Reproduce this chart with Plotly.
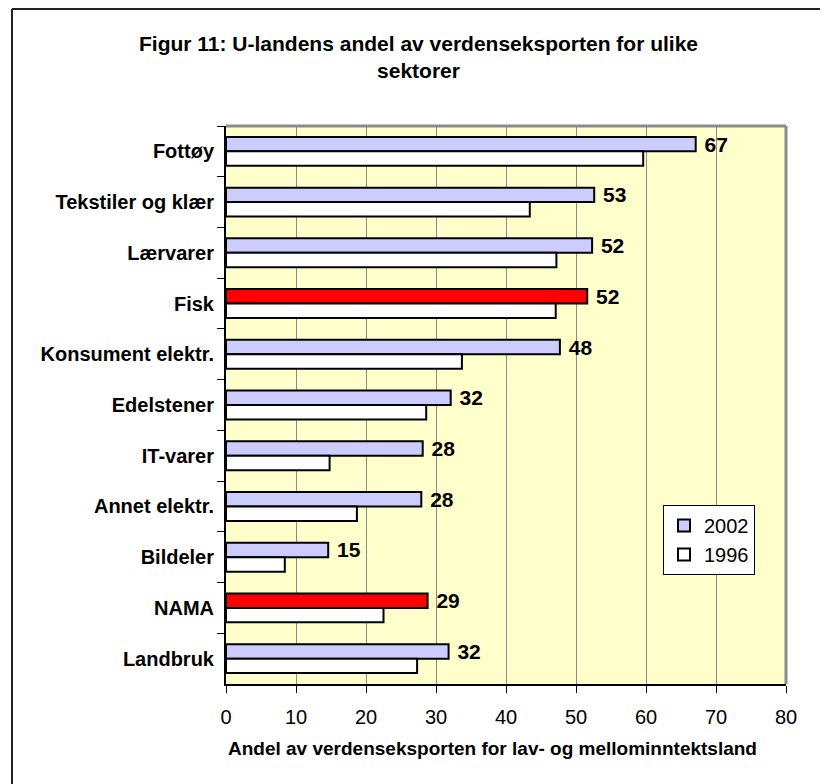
import plotly.graph_objects as go

categories = ["Fottøy", "Tekstiler og klær", "Lærvarer", "Fisk", "Konsument elektr.",
              "Edelstener", "IT-varer", "Annet elektr.", "Bildeler", "NAMA", "Landbruk"]
values_2002 = [67.1, 52.6, 52.3, 51.6, 47.7, 32.1, 28.1, 27.9, 14.6, 28.8, 31.8]
values_1996 = [59.6, 43.4, 47.2, 47.1, 33.7, 28.6, 14.8, 18.7, 8.4, 22.5, 27.3]
highlight = ["Fisk", "NAMA"]
x_ticks = [0, 10, 20, 30, 40, 50, 60, 70, 80]

FONT = "Liberation Sans, Arial, sans-serif"
colors_2002 = ["#FF0000" if c in highlight else "#CCCCFF" for c in categories]

# plot area in page pixels (the page body has an 8px margin)
OFF = 8
L, R, T, B = 226, 786, 126, 684
W, H = 828, 784
pw, ph = R - L, B - T

def px_x(x):
    return (x - L) / pw

def px_y(y):
    return (B - y) / ph

fig = go.Figure()
fig.add_trace(go.Bar(
    name="2002", y=categories, x=values_2002, orientation="h",
    marker=dict(color=colors_2002, line=dict(color="black", width=2)),
    texttemplate=" %{x:.0f}", textposition="outside", constraintext="none",
    cliponaxis=False,
    textfont=dict(family=FONT, size=21, color="black", weight="bold"),
))
fig.add_trace(go.Bar(
    name="1996", y=categories, x=values_1996, orientation="h",
    marker=dict(color="white", line=dict(color="black", width=2)),
))

fig.update_layout(
    width=W - OFF, height=H - OFF,
    margin=dict(l=L - OFF, r=W - R, t=T - OFF, b=H - B),
    paper_bgcolor="white", plot_bgcolor="#FFFFCC",
    barmode="group", bargap=0.43, bargroupgap=0,
    showlegend=True,
    legend=dict(x=px_x(663), y=px_y(505), xanchor="left", yanchor="top",
                bgcolor="white", bordercolor="black", borderwidth=1,
                font=dict(family=FONT, size=20, color="black"),
                itemwidth=30, tracegroupgap=2),
    font=dict(family=FONT, color="black"),
)

fig.update_xaxes(
    range=[0, 80], tickvals=x_ticks, ticktext=[str(v) for v in x_ticks],
    showgrid=True, gridcolor="#8C8C8C", gridwidth=1,
    showline=True, linecolor="black", linewidth=2,
    ticks="outside", ticklen=7, tickcolor="black", tickwidth=1,
    tickfont=dict(family=FONT, size=20, color="black"),
    ticklabelstandoff=7, zeroline=False,
)
fig.update_yaxes(
    categoryorder="array", categoryarray=categories, autorange="reversed",
    showgrid=False, showline=True, linecolor="black", linewidth=2,
    ticks="outside", ticklen=7, tickcolor="black", tickwidth=1,
    tickson="boundaries",
    tickfont=dict(family=FONT, size=20, color="black", weight="bold"),
    ticklabelstandoff=6,
)

# top and right gray plot borders
fig.add_shape(type="line", xref="paper", yref="paper", x0=0, x1=1, y0=1, y1=1,
              line=dict(color="#8C8C8C", width=3), layer="above")
fig.add_shape(type="line", xref="paper", yref="paper", x0=1, x1=1, y0=0, y1=1,
              line=dict(color="#8C8C8C", width=3), layer="above")
# chart frame (left and top visible)
fig.add_shape(type="line", xref="paper", yref="paper",
              x0=px_x(12), x1=px_x(12), y0=px_y(9), y1=px_y(H + 5),
              line=dict(color="#222222", width=2), layer="above")
fig.add_shape(type="line", xref="paper", yref="paper",
              x0=px_x(12), x1=px_x(W + 5), y0=px_y(9), y1=px_y(9),
              line=dict(color="#222222", width=2), layer="above")

fig.add_annotation(
    text="Figur 11: U-landens andel av verdenseksporten for ulike<br>sektorer",
    xref="paper", yref="paper", x=px_x(418), y=px_y(57), xanchor="center", yanchor="middle",
    showarrow=False, font=dict(family=FONT, size=21, color="black", weight="bold"),
)
fig.add_annotation(
    text="Andel av verdenseksporten for lav- og mellominntektsland",
    xref="paper", yref="paper", x=px_x(492), y=px_y(748), xanchor="center", yanchor="middle",
    showarrow=False, font=dict(family=FONT, size=19, color="black", weight="bold"),
)

fig.write_html("out.html")
